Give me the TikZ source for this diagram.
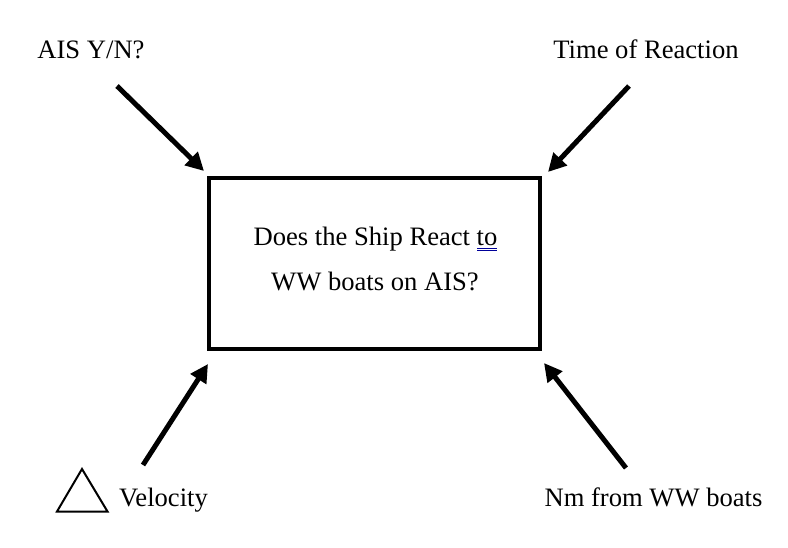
\documentclass[tikz,border=0pt]{standalone}
\usepackage{fontspec}
\setmainfont{Liberation Serif}
\usetikzlibrary{arrows.meta}
\begin{document}
\begin{tikzpicture}[x=1pt,y=-1pt,
  lbl/.style={font=\fontsize{26.6}{44}\selectfont, inner sep=0pt, anchor=base},
  arr/.style={line width=5pt, -{Triangle[length=18pt,width=18pt]}, shorten >=0pt}]
\useasboundingbox (0,0) rectangle (788,548);
\node[draw, line width=4.5pt, minimum width=331pt, minimum height=171pt, inner sep=0pt] (box) at (374.5,263.5) {};
\node[lbl] (l1) at (375.5,246) {Does the Ship React to};
\node[lbl] (l2) at (375,291) {WW boats on AIS?};
\node[lbl] (ais) at (91,59) {AIS Y/N?};
\node[lbl] (tor) at (646,59) {Time of Reaction};
\node[lbl, anchor=base west] (vel) at (119,506) {Velocity};
\node[lbl] (nm) at (653.5,506) {Nm from WW boats};
\coordinate (a1s) at (117,86); \coordinate (a1e) at (204,171);
\coordinate (a2s) at (629,86); \coordinate (a2e) at (548,172);
\coordinate (a3s) at (143,465); \coordinate (a3e) at (208,364);
\coordinate (a4s) at (626,468); \coordinate (a4e) at (544,363);
\draw[arr] (a1s) -- (a1e);
\draw[arr] (a2s) -- (a2e);
\draw[arr] (a3s) -- (a3e);
\draw[arr] (a4s) -- (a4e);
\draw[line width=2pt, line join=miter] (57,511.5) -- (107.5,511.5) -- (82,469) -- cycle;
\draw[blue!60!black, line width=0.8pt] (477,248) -- (497,248) (477,250.6) -- (497,250.6);
\end{tikzpicture}
\end{document}
